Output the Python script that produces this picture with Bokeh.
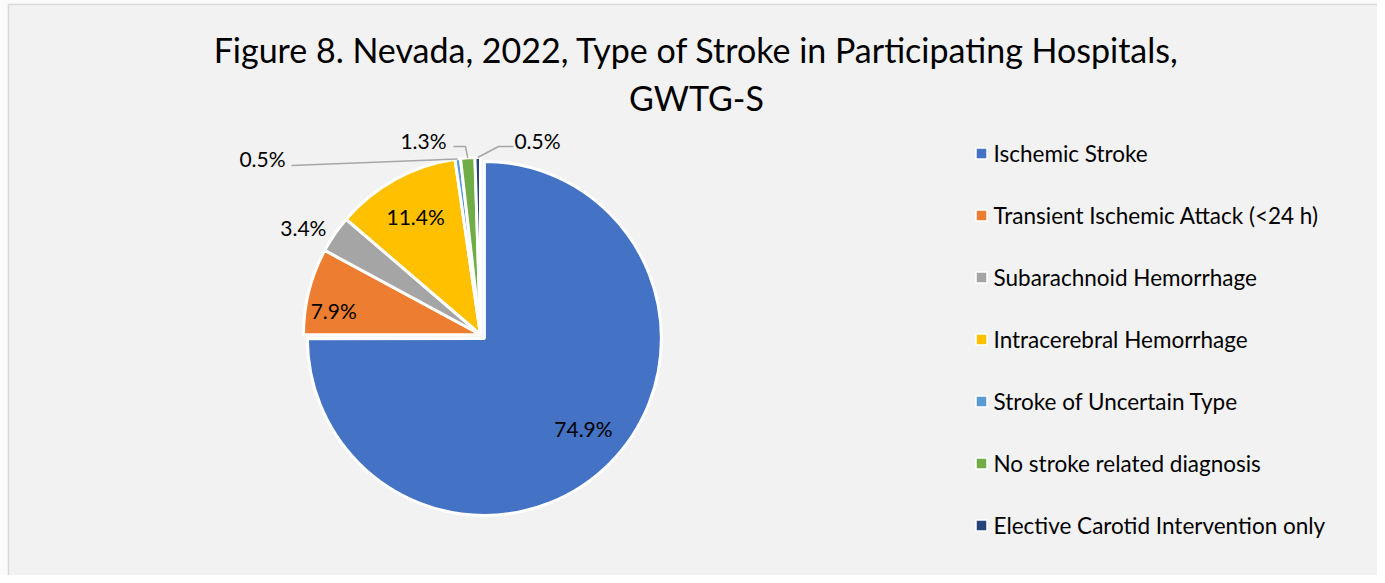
import math
from bokeh.plotting import figure
from bokeh.models import ColumnDataSource, Range1d
from bokeh.core.properties import value
from bokeh.embed import file_html
from bokeh.resources import INLINE

# ---------------- data ----------------
categories = [
    "Ischemic Stroke",
    "Transient Ischemic Attack (<24 h)",
    "Subarachnoid Hemorrhage",
    "Intracerebral Hemorrhage",
    "Stroke of Uncertain Type",
    "No stroke related diagnosis",
    "Elective Carotid Intervention only",
]
percents = [74.9, 7.9, 3.4, 11.4, 0.5, 1.3, 0.5]
colors = ["#4472C4", "#ED7D31", "#A5A5A5", "#FFC000", "#5B9BD5", "#70AD47", "#264478"]
title_lines = ["Figure 8. Nevada, 2022, Type of Stroke in Participating Hospitals,", "GWTG-S"]

# ---------------- layout ----------------
W, H = 1377, 575
FONT = "Lato"


def Y(py):
    return H - py


p = figure(width=W, height=H, output_backend="svg", toolbar_location=None,
           x_range=Range1d(0, W), y_range=Range1d(0, H),
           min_border=0, background_fill_color="#FAFAFA", border_fill_color="#FAFAFA",
           outline_line_color=None)
p.axis.visible = False
p.grid.visible = False

# chart panel
p.quad(left=[8], right=[1383], top=[Y(4)], bottom=[Y(590)], fill_color="#F2F2F2",
       line_color="#D9D9D9", line_width=1.5)

cx, cy, R = 480, Y(334), 177
explode = [5.5, 0, 0, 0, 0, 0, 0]
total = sum(percents)

starts, ends, mids, xs, ys = [], [], [], [], []
c = 0.0
for v, e in zip(percents, explode):
    a0 = math.pi / 2 - 2 * math.pi * c / total
    a1 = math.pi / 2 - 2 * math.pi * (c + v) / total
    m = (a0 + a1) / 2
    starts.append(a0)
    ends.append(a1)
    mids.append(m)
    xs.append(cx + e * math.cos(m))
    ys.append(cy + e * math.sin(m))
    c += v

src = ColumnDataSource(dict(x=xs, y=ys, start=starts, end=ends, color=colors, cat=categories))
p.wedge(x="x", y="y", radius=R, start_angle="start", end_angle="end", direction="clock",
        fill_color="color", line_color="white", line_width=3, source=src)

# ---- data labels ----
labels = [f"{v}%" for v in percents]
label_r = [0.756, 0.84, 1.17, 0.76, None, None, None]
label_da = [2.7, 5.0, 3.3, 0.0, 0, 0, 0]  # degrees nudged off the bisector
lx, ly, lt = [], [], []
for i, fr in enumerate(label_r):
    if fr is None:
        continue
    a = mids[i] + math.radians(label_da[i])
    lx.append(xs[i] + fr * R * math.cos(a))
    ly.append(ys[i] + fr * R * math.sin(a))
    lt.append(labels[i])
# small slices: labels placed outside with leader lines
small_pos = {4: (262, 158), 5: (423, 140), 6: (537, 140)}
leader_pts = {4: [(291, 165)], 5: [(453, 146), (465, 146)], 6: [(513, 146), (498, 146)]}
for i, (px, py) in small_pos.items():
    lx.append(px)
    ly.append(Y(py))
    lt.append(labels[i])
    pts = [(qx, Y(qy)) for qx, qy in leader_pts[i]]
    pts.append((cx + R * math.cos(mids[i]), cy + R * math.sin(mids[i])))
    p.line([q[0] for q in pts], [q[1] for q in pts], line_color="#A6A6A6", line_width=1.5)

p.text(x=lx, y=ly, text=lt, text_align="center", text_baseline="middle",
       text_font=value(FONT), text_font_size="21px", text_color="#000000")

# ---- title ----
p.text(x=[696, 696], y=[Y(49), Y(97)], text=title_lines, text_align="center",
       text_baseline="middle", text_font=value(FONT), text_font_size="34px", text_color="#000000")

# ---- legend ----
leg_x = 981
leg_y = [Y(153 + 62 * i) for i in range(len(categories))]
p.scatter(x=[leg_x] * len(categories), y=leg_y, marker="square", size=11,
          fill_color=colors, line_color="white", line_width=1.5)
p.text(x=[leg_x + 12] * len(categories), y=leg_y, text=categories, text_align="left",
       text_baseline="middle", text_font=value(FONT), text_font_size="22.5px", text_color="#000000")

open("out.html", "w").write(file_html(p, INLINE))
